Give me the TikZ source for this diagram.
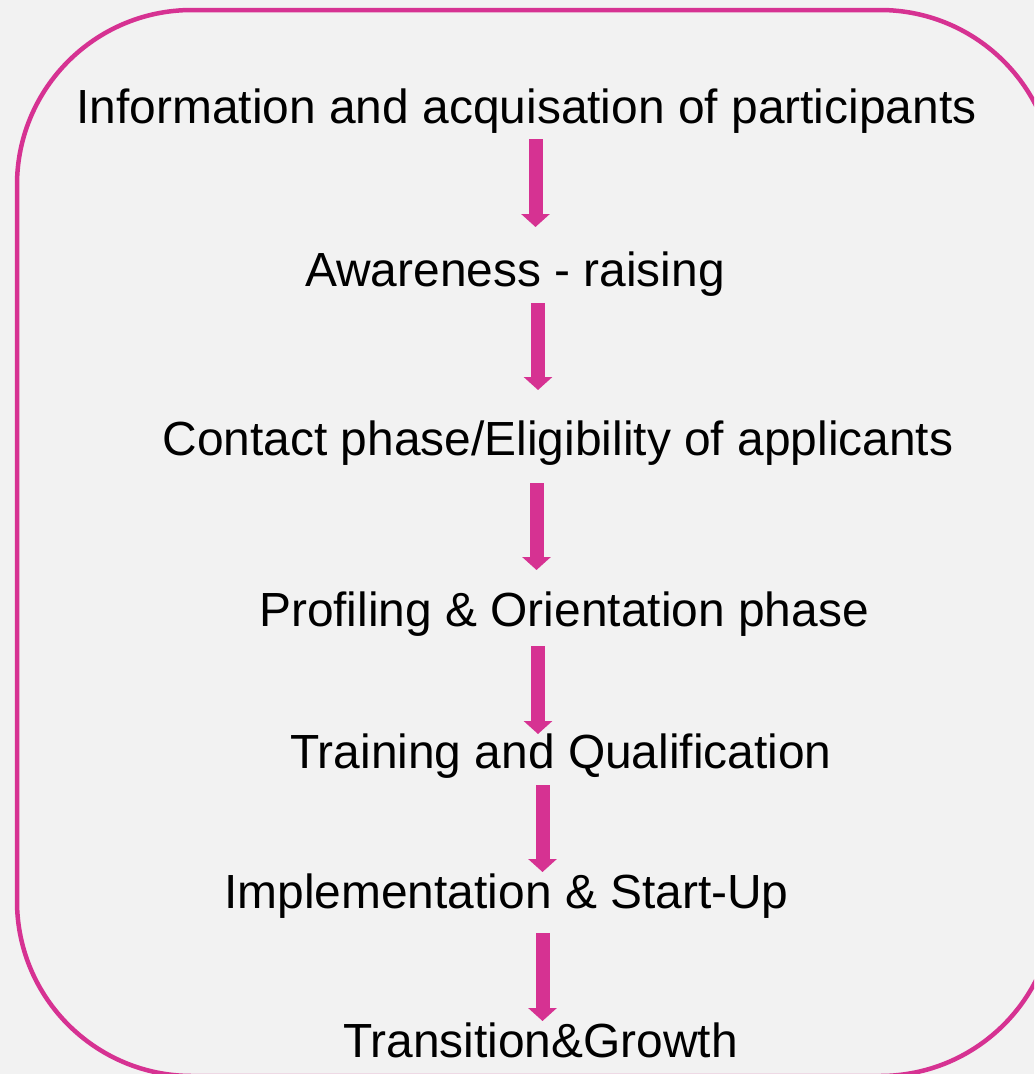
\documentclass[tikz,border=0pt]{standalone}
\usepackage{fontspec}
\setmainfont{Liberation Sans}
\usepackage{tikz}
\usetikzlibrary{arrows.meta}
\definecolor{phasepink}{RGB}{214,50,146}
\definecolor{panelgray}{RGB}{242,242,242}
\tikzset{
  phase/.style={anchor=base,inner sep=0pt,font=\fontsize{47.9}{57}\selectfont},
  flow/.style={phasepink,line width=14pt,-{Triangle[width=28pt,length=13pt]}},
  frame/.style={draw=phasepink,line width=4.5pt,rounded corners=175pt}
}

\begin{document}
\begin{tikzpicture}[x=1pt,y=-1pt]
            \useasboundingbox (0,0) rectangle (1034,1074);
            \fill[panelgray] (0,0) rectangle (1034,1074);
            \clip (0,0) rectangle (1034,1074);
            \draw[frame] (17,10) rectangle (1055,1076);
            \node[phase] (info) at (526.5,123) {Information and acquisation of participants};
            \node[phase] (aware) at (515,286) {Awareness - raising};
            \node[phase] (contact) at (558,455) {Contact phase/Eligibility of applicants};
            \node[phase] (profile) at (564,626) {Profiling \& Orientation phase};
            \node[phase] (train) at (561,768) {Training and Qualification};
            \node[phase] (impl) at (506.5,908) {Implementation \& Start-Up};
            \node[phase] (trans) at (540.5,1057) {Transition\&Growth};
            \draw[flow] ([shift={(9,16)}]info.base) -- ([shift={(20.5,-59)}]aware.base);
            \draw[flow] ([shift={(23,17)}]aware.base) -- ([shift={(-20,-65)}]contact.base);
            \draw[flow] ([shift={(-21.5,28)}]contact.base) -- ([shift={(-27.5,-56)}]profile.base);
            \draw[flow] ([shift={(-26,20)}]profile.base) -- ([shift={(-23,-34)}]train.base);
            \draw[flow] ([shift={(-18.5,17)}]train.base) -- ([shift={(36,-36)}]impl.base);
            \draw[flow] ([shift={(36,25)}]impl.base) -- ([shift={(2,-36)}]trans.base);
        \end{tikzpicture}
\end{document}
